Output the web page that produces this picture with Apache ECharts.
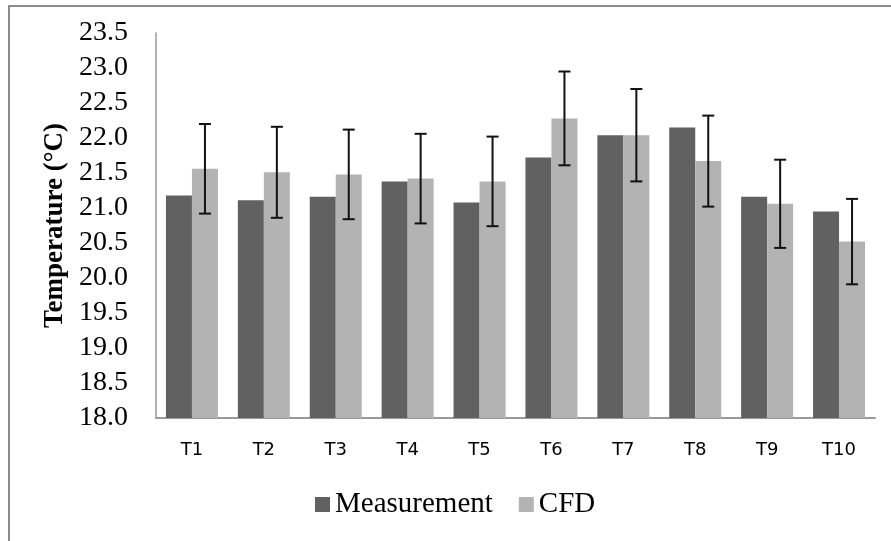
<!DOCTYPE html>
<html>
<head>
<meta charset="utf-8">
<title>Temperature: Measurement vs CFD</title>
<script src="https://cdn.jsdelivr.net/npm/echarts@6/dist/echarts.min.js"></script>
<style>
  html, body { margin: 0; padding: 0; background: #fff; }
  #chart { width: 891px; height: 541px; }
</style>
</head>
<body>
<div id="chart"></div>
<script>
// Sensor positions
const categories = ['T1', 'T2', 'T3', 'T4', 'T5', 'T6', 'T7', 'T8', 'T9', 'T10'];
// Measured temperatures (°C)
const measurement = [21.18, 21.11, 21.16, 21.38, 21.08, 21.72, 22.04, 22.15, 21.16, 20.95];
// CFD predicted temperatures (°C)
const cfd = [21.56, 21.51, 21.48, 21.42, 21.38, 22.28, 22.04, 21.67, 21.06, 20.52];
// Error bar half-range on CFD values (°C)
const cfdError = [0.64, 0.65, 0.64, 0.64, 0.64, 0.67, 0.66, 0.65, 0.63, 0.61];
// Y axis range
const yMin = 18.0, yMax = 23.5, yStep = 0.5;

const BAR_W = 26;
const errData = cfd.map((v, i) => [i, v - cfdError[i], v + cfdError[i]]);

const chart = echarts.init(document.getElementById('chart'), null, { renderer: 'canvas' });

chart.setOption({
  backgroundColor: '#ffffff',
  animation: false,
  graphic: [{
    type: 'rect',
    shape: { x: 9, y: 6, width: 1000, height: 1000 },
    style: { fill: 'none', stroke: '#8c8c8c', lineWidth: 2 },
    silent: true
  }],
  grid: { left: 156, top: 33, right: 16, bottom: 123, containLabel: false },
  legend: {
    left: 310,
    top: 485,
    itemWidth: 15,
    itemHeight: 15,
    itemGap: 26,
    icon: 'rect',
    textStyle: { fontFamily: 'Liberation Serif', fontSize: 29, color: '#000' },
    data: ['Measurement', 'CFD']
  },
  xAxis: {
    type: 'category',
    data: categories,
    axisLine: { show: true, lineStyle: { color: '#9a9a9a', width: 2 } },
    axisTick: { show: false },
    axisLabel: { fontFamily: 'DejaVu Sans', fontSize: 18, color: '#000', margin: 23 }
  },
  yAxis: {
    type: 'value',
    min: yMin,
    max: yMax,
    interval: yStep,
    name: 'Temperature (°C)',
    nameLocation: 'middle',
    nameGap: 87,
    nameTextStyle: { fontFamily: 'Liberation Serif', fontWeight: 'bold', fontSize: 27, color: '#000' },
    axisLine: { show: true, lineStyle: { color: '#9a9a9a', width: 1.5 } },
    axisTick: { show: false },
    splitLine: { show: false },
    axisLabel: {
      fontFamily: 'Liberation Serif', fontSize: 28, color: '#000', margin: 28,
      formatter: v => v.toFixed(1)
    }
  },
  series: [
    {
      name: 'Measurement',
      type: 'bar',
      data: measurement,
      barWidth: BAR_W,
      barGap: '0%',
      itemStyle: { color: '#616161' }
    },
    {
      name: 'CFD',
      type: 'bar',
      data: cfd,
      barWidth: BAR_W,
      barGap: '0%',
      itemStyle: { color: '#b3b3b3' }
    },
    {
      name: 'CFD error',
      type: 'custom',
      data: errData,
      z: 10,
      renderItem: function (params, api) {
        const lo = api.coord([api.value(0), api.value(1)]);
        const hi = api.coord([api.value(0), api.value(2)]);
        const x = lo[0] + BAR_W / 2;
        const cap = 6;
        const style = { stroke: '#111', lineWidth: 2 };
        return {
          type: 'group',
          children: [
            { type: 'line', shape: { x1: x, y1: hi[1], x2: x, y2: lo[1] }, style },
            { type: 'line', shape: { x1: x - cap, y1: hi[1], x2: x + cap, y2: hi[1] }, style },
            { type: 'line', shape: { x1: x - cap, y1: lo[1], x2: x + cap, y2: lo[1] }, style }
          ]
        };
      }
    }
  ]
});
</script>
</body>
</html>
